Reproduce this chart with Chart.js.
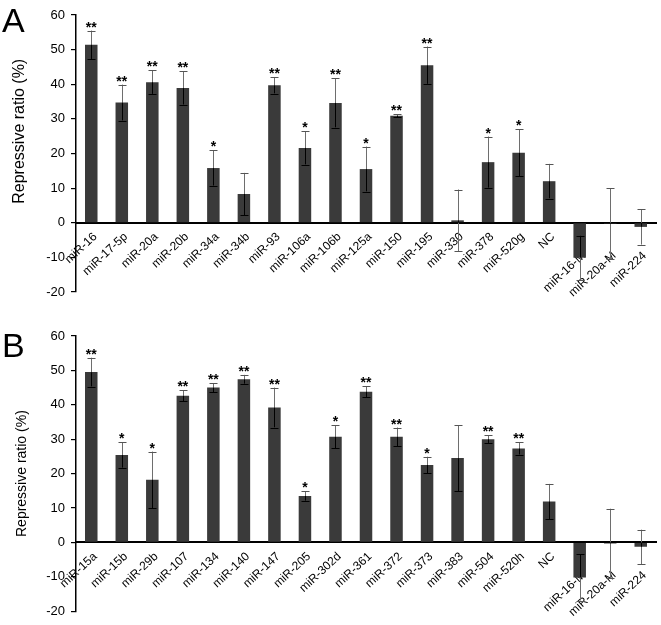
<!DOCTYPE html>
<html>
<head>
<meta charset="utf-8">
<script src="https://cdn.jsdelivr.net/npm/chart.js@4.4.0/dist/chart.umd.min.js"></script>
<style>
  body { margin: 0; background: #fff; }
  #wrap { position: relative; width: 661px; height: 625px; font-family: Arial, "Liberation Sans", sans-serif; }
  .panel { position: absolute; left: 0; width: 661px; }
  .letter { position: absolute; left: 2px; font-size: 34px; line-height: 1; color: #000; }
</style>
</head>
<body>
<div id="wrap">
  <div class="panel" style="top:0;height:312px"><canvas id="chartA" width="661" height="312"></canvas></div>
  <div class="panel" style="top:312px;height:313px"><canvas id="chartB" width="661" height="313"></canvas></div>
  <div class="letter" style="top:3px">A</div>
  <div class="letter" style="top:328px">B</div>
</div>
<script>
// panel A
const catsA = ['miR-16', 'miR-17-5p', 'miR-20a', 'miR-20b', 'miR-34a', 'miR-34b', 'miR-93', 'miR-106a', 'miR-106b',
  'miR-125a', 'miR-150', 'miR-195', 'miR-330', 'miR-378', 'miR-520g', 'NC', 'miR-16-M', 'miR-20a-M', 'miR-224'];
const valsA = [51.4, 34.7, 40.6, 38.9, 15.8, 8.3, 39.7, 21.6, 34.6, 15.5, 30.9, 45.5, 0.7, 17.5, 20.2, 12.0, -10.1, -0.3, -1.2];
const errsA = [4.1, 5.2, 3.4, 4.8, 5.1, 6.1, 2.4, 4.8, 7.1, 6.5, 0.4, 5.4, 8.9, 7.4, 6.8, 5.0, 6.4, 10.3, 5.1];
const starsA = ['**', '**', '**', '**', '*', '', '**', '*', '**', '*', '**', '**', '', '*', '*', '', '', '', ''];

// panel B
const catsB = ['miR-15a', 'miR-15b', 'miR-29b', 'miR-107', 'miR-134', 'miR-140', 'miR-147', 'miR-205', 'miR-302d',
  'miR-361', 'miR-372', 'miR-373', 'miR-383', 'miR-504', 'miR-520h', 'NC', 'miR-16-M', 'miR-20a-M', 'miR-224'];
const valsB = [49.5, 25.4, 18.2, 42.6, 45.0, 47.4, 39.2, 13.5, 30.7, 43.8, 30.7, 22.5, 24.5, 30.0, 27.3, 11.9, -10.2, -0.3, -1.3];
const errsB = [4.2, 3.7, 8.2, 1.6, 1.3, 1.3, 5.8, 1.4, 3.4, 1.6, 2.7, 2.4, 9.6, 1.1, 1.8, 5.1, 6.7, 10.1, 5.0];
const starsB = ['**', '*', '*', '**', '**', '**', '**', '*', '*', '**', '**', '*', '', '**', '**', '', '', '', ''];

const yMin = -20, yMax = 60, yStep = 10;
const yTitle = 'Repressive ratio (%)';
// the last three labels sit lower than the rest
const firstLow = 16;

const errorBarPlugin = {
  id: 'errorBars',
  afterDatasetsDraw(chart, args, opts) {
    const ctx = chart.ctx;
    const y = chart.scales.y;
    const vals = chart.data.datasets[0].data;
    const bars = chart.getDatasetMeta(0).data;
    const y0 = y.getPixelForValue(0);
    ctx.save();
    ctx.lineWidth = 1;
    bars.forEach(function(bar, i) {
      const v = vals[i], e = opts.errors[i];
      const x = Math.round(bar.x) + 0.5;
      const yTop = y.getPixelForValue(v + e);
      const yBot = y.getPixelForValue(v - e);
      const yv = y.getPixelForValue(v);
      const lo = Math.min(y0, yv), hi = Math.max(y0, yv);
      const inside = p => p >= lo - 0.5 && p <= hi + 0.5;
      // whole whisker in grey
      ctx.strokeStyle = '#6e6e6e';
      ctx.beginPath();
      ctx.moveTo(x, yTop); ctx.lineTo(x, yBot);
      ctx.stroke();
      // part that runs over the bar in black
      const a = Math.max(yTop, lo), b = Math.min(yBot, hi);
      if (b > a) {
        ctx.strokeStyle = '#000';
        ctx.beginPath();
        ctx.moveTo(x, a); ctx.lineTo(x, b);
        ctx.stroke();
      }
      [yTop, yBot].forEach(function(p) {
        ctx.strokeStyle = inside(p) ? '#000' : '#555';
        ctx.beginPath();
        ctx.moveTo(x - 4, Math.round(p) + 0.5); ctx.lineTo(x + 4, Math.round(p) + 0.5);
        ctx.stroke();
      });
      if (opts.stars[i]) {
        ctx.fillStyle = '#000';
        ctx.font = 'bold 14px Arial';
        ctx.textAlign = 'center';
        ctx.textBaseline = 'alphabetic';
        ctx.fillText(opts.stars[i], bar.x, yTop + 1);
      }
    });
    ctx.restore();
  }
};

function drawPanel(id, cats, vals, errs, stars, pad, titleSize, titlePad, title) {
  const ctx = document.getElementById(id).getContext('2d');
  const tickFont = { family: 'Arial', size: 12 };
  new Chart(ctx, {
    type: 'bar',
    data: {
      labels: cats,
      datasets: [{
        data: vals,
        backgroundColor: '#3a3a3a',
        barPercentage: 0.82,
        categoryPercentage: 0.5
      }]
    },
    plugins: [errorBarPlugin],
    options: {
      responsive: false,
      animation: false,
      layout: { padding: pad },
      plugins: {
        legend: { display: false },
        tooltip: { enabled: false },
        errorBars: { errors: errs, stars: stars }
      },
      scales: {
        x: {
          type: 'category',
          position: { y: 0 },
          offset: true,
          grid: { display: false, drawTicks: false },
          border: { display: true, color: '#000', width: 2 },
          ticks: {
            autoSkip: false, minRotation: 43, maxRotation: 43, padding: 7, labelOffset: 4,
            color: '#000', font: tickFont,
            callback: (v, i) => i < firstLow ? cats[i] : ''
          }
        },
        x2: {
          type: 'category',
          axis: 'x',
          labels: cats,
          position: { y: -5.5 },
          offset: true,
          z: 1,
          grid: { display: false, drawTicks: false },
          border: { display: false },
          ticks: {
            autoSkip: false, minRotation: 43, maxRotation: 43, padding: 7, labelOffset: 4,
            color: '#000', font: tickFont,
            callback: (v, i) => i >= firstLow ? cats[i] : ''
          }
        },
        y: {
          min: yMin,
          max: yMax,
          afterFit: s => { s.width = 76; },
          ticks: { stepSize: yStep, padding: 6, color: '#000', font: { family: 'Arial', size: 13 } },
          grid: { drawOnChartArea: false, tickLength: 5, color: '#000', lineWidth: 1.2 },
          border: { color: '#000', width: 1.5 },
          title: {
            display: true, text: title, color: '#000',
            font: { family: 'Arial', size: titleSize },
            padding: { top: titlePad, bottom: 0 }
          }
        }
      }
    }
  });
}

drawPanel('chartA', catsA, valsA, errsA, starsA, { top: 15, bottom: 20, left: 0, right: 5 }, 16, 10,
  '          ' + yTitle);
drawPanel('chartB', catsB, valsB, errsB, starsB, { top: 24, bottom: 12, left: 0, right: 5 }, 14, 14, yTitle);
</script>
</body>
</html>
